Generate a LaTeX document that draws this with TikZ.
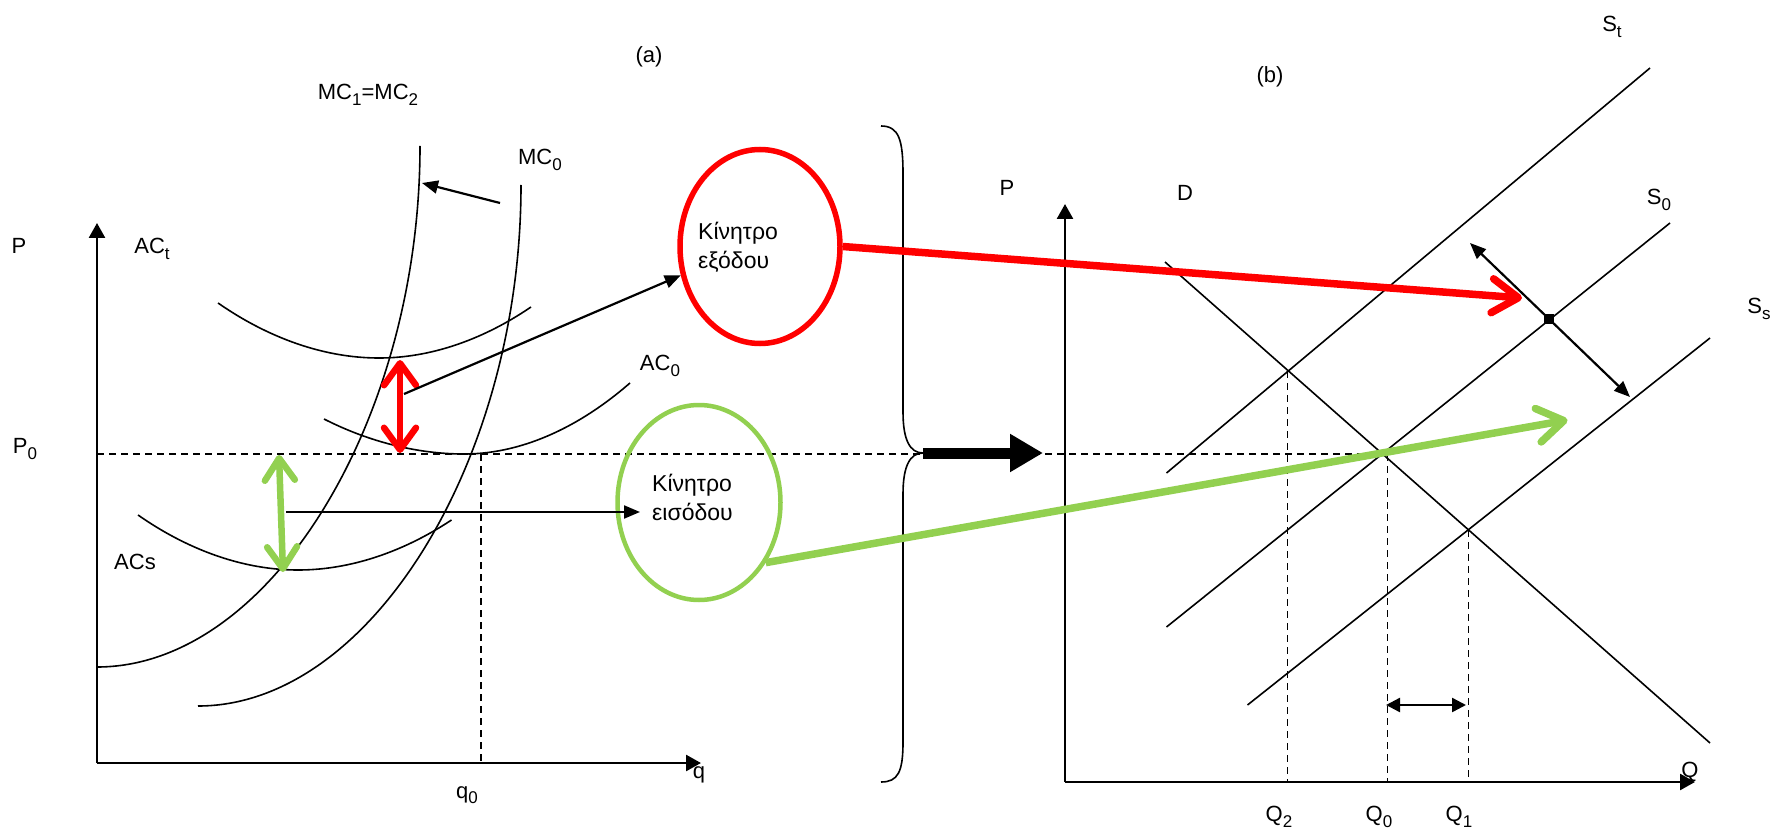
\documentclass[tikz,border=0pt]{standalone}
\usepackage{fontspec}
\setmainfont{Liberation Sans}
\usetikzlibrary{arrows.meta,shapes.geometric}
\definecolor{rd}{RGB}{255,0,0}
\definecolor{gr}{RGB}{146,208,80}
\newcommand{\sbs}[1]{\raisebox{-5.5pt}{\fontsize{17}{17}\selectfont #1}}
\begin{document}
\begin{tikzpicture}[x=1pt,y=-1pt,
 lbl/.style={font=\fontsize{22}{26}\selectfont, inner sep=0pt},
 ctxt/.style={font=\fontsize{23}{29}\selectfont, inner sep=0pt, align=left, anchor=west},
 crv/.style={line width=1.6pt},
 axis/.style={line width=2.6pt, -{Triangle[length=15pt,width=16pt]}},
 dline/.style={line width=1.4pt, dash pattern=on 7pt off 5pt},
 tarr/.style={line width=2.2pt, -{Triangle[length=16pt,width=13pt]}},
 tdarr/.style={line width=2.4pt, {Triangle[length=14pt,width=14pt]}-{Triangle[length=14pt,width=14pt]}},
 rbar/.style={draw=rd, line width=6.5pt, {Straight Barb[length=22pt,width=32pt,round]}-{Straight Barb[length=22pt,width=32pt,round]}},
 gbar/.style={draw=gr, line width=6.5pt, {Straight Barb[length=22pt,width=30pt,round]}-{Straight Barb[length=22pt,width=30pt,round]}},
]
\useasboundingbox (0,0) rectangle (1783,829);

% ---------- left panel axes
\coordinate (LO) at (97,763); \coordinate (LY) at (97,223); \coordinate (LX) at (701,763);
\draw[axis] (LO) -- (LY);
\draw[axis] (LO) -- (LX);

% dashed lines
\coordinate (p0l) at (97,454);
\coordinate (e0) at (1387.5,454);
\draw[dline] (p0l) -- (e0);
\coordinate (q0t) at (481,454); \coordinate (q0b) at (481,763);
\draw[dline] (q0t) -- (q0b);

% cost curves
\draw[crv] (97,667) .. controls (270,667) and (420,420) .. (420,146);
\draw[crv] (198,706) .. controls (371,706) and (521,459) .. (521,185);
\draw[crv] (218,303) parabola bend (379,358) (531,307);
\draw[crv] (324,419) parabola bend (464,454) (630,383);
\draw[crv] (138,515) parabola bend (298,570) (451.5,520);

% MC shift arrow
\coordinate (mcs) at (500,203); \coordinate (mce) at (422,183);
\draw[tarr] (mcs) -- (mce);

% ellipses
\node[ellipse, draw=rd, line width=5.5pt, minimum width=160pt, minimum height=194pt, inner sep=0pt] (redell) at (760,246.5) {};
\node[ellipse, draw=gr, line width=4.5pt, minimum width=163pt, minimum height=195pt, inner sep=0pt] (grell) at (699,502.5) {};
\node[ctxt] (redtxt) at (698,247.5) {Κίνητρο\\εξόδου};
\node[ctxt] (grtxt) at (652,497.5) {Κίνητρο\\εισόδου};

% red / green vertical arrows
\coordinate (ra1) at (400,360); \coordinate (ra2) at (400,453);
\draw[rbar] (ra1) -- (ra2);
\coordinate (ga1) at (279,455); \coordinate (ga2) at (283,572);
\draw[gbar] (ga1) -- (ga2);

% black arrows to ellipses
\coordinate (ram) at (404,394);
\draw[tarr] (ram) -- (redell.200);
\coordinate (gam) at (286,512); \coordinate (gat) at (640,512);
\draw[tarr] (gam) -- (gat);

% brace
\coordinate (brtip) at (923,453);
\draw[line width=1.6pt] (881,126) .. controls (899,126) and (903,140) .. (903,174) -- (903,412)
  .. controls (903,440) and (910,453) .. (brtip)
  .. controls (910,453) and (903,466) .. (903,494) -- (903,742)
  .. controls (903,772) and (898,782) .. (881,782);
\coordinate (bigtip) at (1043,453);
\draw[line width=11pt, -{Triangle[length=33pt,width=36pt]}] (brtip) -- (bigtip);

% ---------- right panel
\coordinate (RO) at (1065,782); \coordinate (RY) at (1065,204); \coordinate (RX) at (1695,782);
\draw[axis] (RO) -- (RY);
\draw[axis] (RO) -- (RX);

\draw[crv] (1166.5,473) -- (1650,68);
\draw[crv] (1166.5,627) -- (1670,223);
\draw[crv] (1247.5,705) -- (1710,338);
\draw[crv] (1165,262) -- (1710,743);

\coordinate (q2t) at (1287.5,371); \coordinate (q2b) at (1287.5,782);
\coordinate (q0bb) at (1387.5,782);
\coordinate (q1t) at (1468.5,530); \coordinate (q1b) at (1468.5,782);
\draw[dline] (q2t) -- (q2b);
\draw[dline] (e0) -- (q0bb);
\draw[dline] (q1t) -- (q1b);

\coordinate (da1) at (1386,705); \coordinate (da2) at (1466,705);
\draw[tdarr] (da1) -- (da2);

\node[fill=black, minimum size=10pt, inner sep=0pt] (eq) at (1549,319) {};
\coordinate (ul) at (1470,243); \coordinate (dr) at (1630,397);
\draw[tarr] (eq.center) -- (ul);
\draw[tarr] (eq.center) -- (dr);

% thick coloured arrows
\coordinate (redtip) at (1522,298);
\draw[draw=rd, line width=7.5pt, -{Straight Barb[length=26pt,width=34pt,round]}] (redell.east) -- (redtip);
\coordinate (grtip) at (1567.5,420);
\draw[draw=gr, line width=7.5pt, -{Straight Barb[length=26pt,width=34pt,round]}] (grell.-42) -- (grtip);

% ---------- labels
\node[lbl] (la) at (649,57) {(a)};
\node[lbl] (lb) at (1270,77) {(b)};
\node[lbl] (lmc12) at (368,95) {MC\sbs{1}=MC\sbs{2}};
\node[lbl] (lmc0) at (540,160) {MC\sbs{0}};
\node[lbl] (lP) at (19,246) {P};
\node[lbl] (lACt) at (152,249) {AC\sbs{t}};
\node[lbl] (lAC0) at (660,366) {AC\sbs{0}};
\node[lbl] (lP0) at (25,449) {P\sbs{0}};
\node[lbl] (lACs) at (135,562) {ACs};
\node[lbl] (lq) at (699,775) {q};
\node[lbl] (lq0) at (467,795) {q\sbs{0}};
\node[lbl] (lPr) at (1007,188) {P};
\node[lbl] (lD) at (1185,193) {D};
\node[lbl] (lSt) at (1612,27) {S\sbs{t}};
\node[lbl] (lS0) at (1659,200) {S\sbs{0}};
\node[lbl] (lSs) at (1759,309) {S\sbs{s}};
\node[lbl] (lQ) at (1690,772) {Q};
\node[lbl] (lQ2) at (1279,817) {Q\sbs{2}};
\node[lbl] (lQ0) at (1379,817) {Q\sbs{0}};
\node[lbl] (lQ1) at (1459,817) {Q\sbs{1}};
\end{tikzpicture}
\end{document}
